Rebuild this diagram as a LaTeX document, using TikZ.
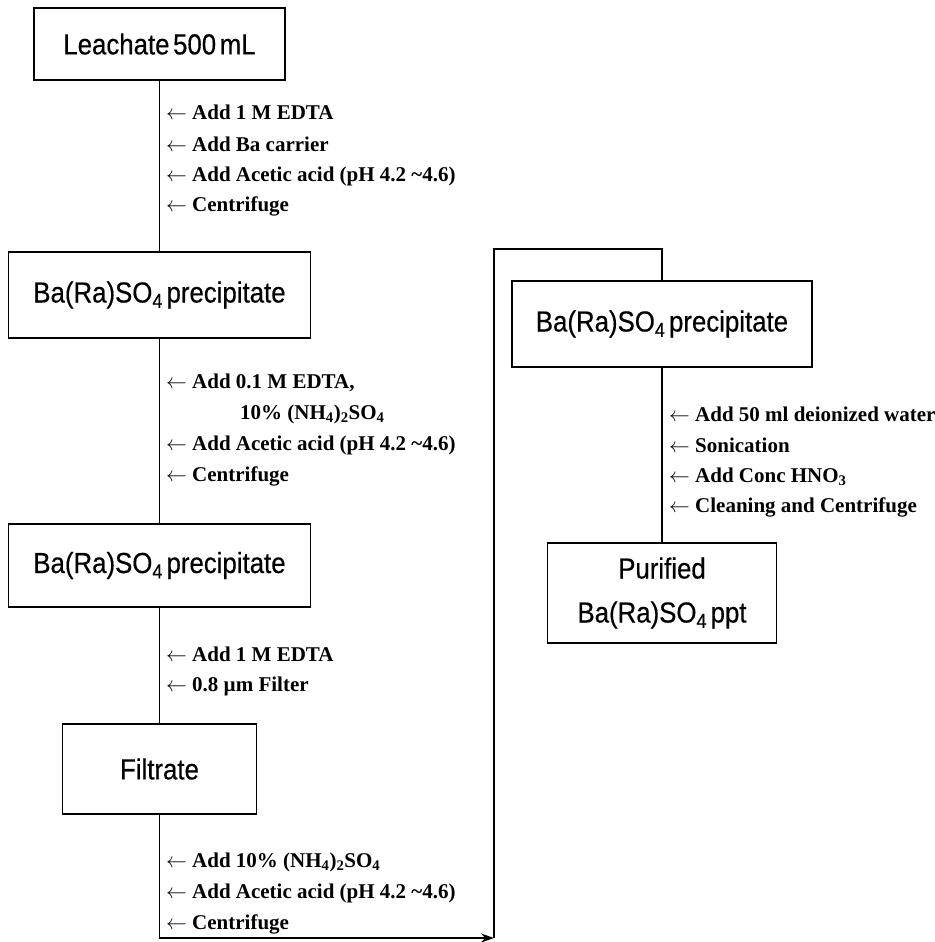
\documentclass[tikz,border=0pt]{standalone}
\usepackage{fontspec}
\usetikzlibrary{arrows.meta}
\newfontfamily\boxfont[FakeStretch=0.89,FakeBold=0.4,WordSpace=0.5]{Liberation Sans}
\newfontfamily\notefont{Liberation Serif}
\newcommand{\larr}{$\leftarrow$}
\tikzset{
  procbox/.style={draw, line width=1.8pt, inner sep=0pt, align=center,
    font=\boxfont\fontsize{29}{44}\selectfont},
  note/.style={anchor=west, inner sep=0pt,
    font=\notefont\bfseries\fontsize{21}{24}\selectfont},
  conn/.style={line width=1.8pt},
}
\begin{document}
\begin{tikzpicture}[x=1pt,y=-1pt]
\useasboundingbox (0,0) rectangle (934,942);
% boxes
\node[procbox, minimum width=251pt, minimum height=72pt] (b1) at (159.5,44) {Leachate 500 mL};
\node[procbox, minimum width=302pt, minimum height=86pt] (b2) at (159.5,295) {Ba(Ra)SO\textsubscript{4} precipitate};
\node[procbox, minimum width=302pt, minimum height=83pt] (b3) at (159.5,565.5) {Ba(Ra)SO\textsubscript{4} precipitate};
\node[procbox, minimum width=194pt, minimum height=90pt] (b4) at (159.5,769) {Filtrate};
\node[procbox, minimum width=300pt, minimum height=86pt] (b5) at (662,324) {Ba(Ra)SO\textsubscript{4} precipitate};
\node[procbox, minimum width=229pt, minimum height=100pt] (b6) at (662,593) {Purified\\Ba(Ra)SO\textsubscript{4} ppt};
% connectors
\coordinate (c1) at (494,938);
\coordinate (c2) at (494,249);
\draw[conn] (b1.south) -- (b2.north);
\draw[conn] (b2.south) -- (b3.north);
\draw[conn] (b3.south) -- (b4.north);
\draw[conn, -{Stealth[length=13pt,width=9pt]}] (b4.south) |- (c1);
\draw[conn] (c1) -- (c2) -| (b5.north);
\draw[conn] (b5.south) -- (b6.north);
% notes
\node[note] (n1) at (166,112) {\larr{} Add 1 M EDTA};
\node[note] (n2) at (166,144) {\larr{} Add Ba carrier};
\node[note] (n3) at (166,176) {\larr{} Add Acetic acid (pH 4.2 \textasciitilde4.6)};
\node[note] (n4) at (166,206) {\larr{} Centrifuge};
\node[note] (n5) at (166,383) {\larr{} Add 0.1 M EDTA,};
\node[note] (n6) at (240,414) {10\% (NH\textsubscript{4})\textsubscript{2}SO\textsubscript{4}};
\node[note] (n7) at (166,445) {\larr{} Add Acetic acid (pH 4.2 \textasciitilde4.6)};
\node[note] (n8) at (166,476) {\larr{} Centrifuge};
\node[note] (n9) at (166,654) {\larr{} Add 1 M EDTA};
\node[note] (n10) at (166,686) {\larr{} 0.8 µm Filter};
\node[note] (n11) at (166,862) {\larr{} Add 10\% (NH\textsubscript{4})\textsubscript{2}SO\textsubscript{4}};
\node[note] (n12) at (166,893) {\larr{} Add Acetic acid (pH 4.2 \textasciitilde4.6)};
\node[note] (n13) at (166,924) {\larr{} Centrifuge};
\node[note] (n14) at (669,414) {\larr{} Add 50 ml deionized water};
\node[note] (n15) at (669,445) {\larr{} Sonication};
\node[note] (n16) at (669,477) {\larr{} Add Conc HNO\textsubscript{3}};
\node[note] (n17) at (669,507) {\larr{} Cleaning and Centrifuge};
\end{tikzpicture}
\end{document}
